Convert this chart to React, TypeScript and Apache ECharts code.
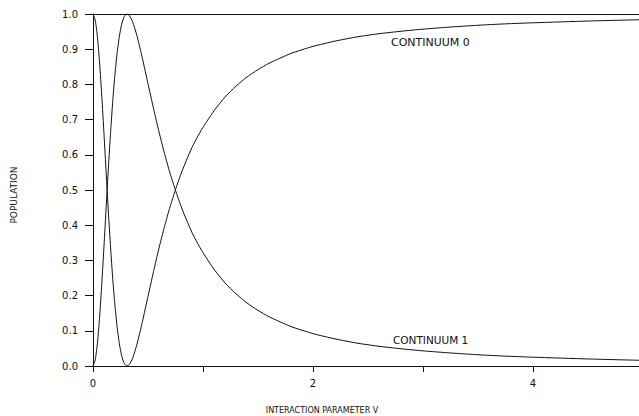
import React, { useEffect, useRef } from "react";
import * as echarts from "echarts";

// Interaction parameter V (x values)
const V = [
  0, 0.02, 0.04, 0.06, 0.08, 0.1, 0.12, 0.14, 0.16, 0.18, 0.2, 0.22, 0.24, 0.26, 0.28, 0.3, 0.31,
  0.33, 0.36, 0.4, 0.45, 0.5, 0.55, 0.6, 0.65, 0.7, 0.75, 0.8, 0.85, 0.9, 0.95, 1.0, 1.1, 1.2, 1.3,
  1.4, 1.5, 1.6, 1.8, 2.0, 2.2, 2.4, 2.6, 2.8, 3.0, 3.25, 3.5, 3.75, 4.0, 4.5, 5.0,
];

// Population of continuum 1
const CONTINUUM_1 = [
  0, 0.017, 0.064, 0.139, 0.234, 0.341, 0.453, 0.563, 0.664, 0.755, 0.83, 0.891, 0.937, 0.97, 0.99,
  0.999, 1.0, 0.996, 0.978, 0.938, 0.873, 0.802, 0.732, 0.665, 0.604, 0.548, 0.499, 0.454, 0.415,
  0.379, 0.349, 0.322, 0.275, 0.236, 0.205, 0.179, 0.158, 0.14, 0.112, 0.092, 0.077, 0.065, 0.056,
  0.049, 0.043, 0.037, 0.032, 0.028, 0.025, 0.02, 0.016,
];

// Population of continuum 0
const CONTINUUM_0 = [
  1, 0.983, 0.936, 0.861, 0.766, 0.659, 0.547, 0.437, 0.336, 0.245, 0.17, 0.109, 0.063, 0.03, 0.01,
  0.001, 0.0, 0.004, 0.022, 0.062, 0.127, 0.198, 0.268, 0.335, 0.396, 0.452, 0.501, 0.546, 0.585,
  0.621, 0.651, 0.678, 0.725, 0.764, 0.795, 0.821, 0.842, 0.86, 0.888, 0.908, 0.923, 0.935, 0.944,
  0.951, 0.957, 0.963, 0.968, 0.972, 0.975, 0.98, 0.984,
];

const X_LABELED_TICKS = [0, 2, 4];
const X_MIN = 0;
const X_MAX = 5;
const Y_MIN = 0;
const Y_MAX = 1;

const SERIES_LABELS = ["CONTINUUM 0", "CONTINUUM 1"];
const X_NAME = "INTERACTION PARAMETER V";
const Y_NAME = "POPULATION";

const FONT = "DejaVu Sans";
const INK = "#111111";

export default function App() {
  const ref = useRef<HTMLDivElement>(null);

  useEffect(() => {
    if (!ref.current) return;
    const chart = echarts.init(ref.current, undefined, { renderer: "svg" });
    const lineStyle = { color: INK, width: 1 };
    chart.setOption({
      animation: false,
      backgroundColor: "#ffffff",
      grid: { left: 93, right: -4, top: 14, bottom: 50, outerBoundsMode: "none" },
      xAxis: [
        {
          type: "value",
          min: X_MIN,
          max: X_MAX,
          interval: 1,
          axisLine: { show: true, lineStyle: { color: INK, width: 1 } },
          axisTick: { show: true, length: 6, lineStyle: { color: INK } },
          splitLine: { show: false },
          axisLabel: {
            margin: 12,
            fontFamily: FONT,
            fontSize: 10,
            color: INK,
            formatter: (v: number) => (X_LABELED_TICKS.includes(v) ? String(v) : ""),
          },
        },
        {
          type: "value",
          position: "top",
          min: X_MIN,
          max: X_MAX,
          axisLine: { show: true, lineStyle: { color: INK, width: 1 } },
          axisTick: { show: false },
          axisLabel: { show: false },
          splitLine: { show: false },
        },
      ],
      yAxis: {
        type: "value",
        min: Y_MIN,
        max: Y_MAX,
        interval: 0.1,
        axisLine: { show: true, lineStyle: { color: INK, width: 1 } },
        axisTick: { show: true, length: 8, lineStyle: { color: INK } },
        splitLine: { show: false },
        axisLabel: {
          margin: 15,
          fontFamily: FONT,
          fontSize: 10,
          color: INK,
          formatter: (v: number) => v.toFixed(1),
        },
      },
      series: [
        {
          name: SERIES_LABELS[0],
          type: "line",
          showSymbol: false,
          smooth: 0.2,
          lineStyle,
          data: V.map((v, i) => [v, CONTINUUM_0[i]]),
        },
        {
          name: SERIES_LABELS[1],
          type: "line",
          showSymbol: false,
          smooth: 0.2,
          lineStyle,
          data: V.map((v, i) => [v, CONTINUUM_1[i]]),
        },
      ],
      graphic: [
        {
          type: "text",
          x: 391,
          y: 42,
          style: {
            text: SERIES_LABELS[0],
            fontFamily: FONT,
            fontSize: 11,
            fill: INK,
            verticalAlign: "middle",
          },
        },
        {
          type: "text",
          x: 393,
          y: 340,
          style: {
            text: SERIES_LABELS[1],
            fontFamily: FONT,
            fontSize: 10.5,
            fill: INK,
            verticalAlign: "middle",
          },
        },
        {
          type: "text",
          x: 322,
          y: 410,
          style: {
            text: X_NAME,
            fontFamily: FONT,
            fontSize: 8,
            fill: INK,
            align: "center",
            verticalAlign: "middle",
          },
        },
        {
          type: "text",
          x: 13.5,
          y: 195,
          rotation: Math.PI / 2,
          style: {
            text: Y_NAME,
            fontFamily: FONT,
            fontSize: 9,
            fill: INK,
            align: "center",
            verticalAlign: "middle",
          },
        },
      ],
    });
    return () => chart.dispose();
  }, []);

  return (
    <div
      ref={ref}
      style={{ position: "fixed", left: 0, top: 0, width: 639, height: 416, background: "#fff" }}
    />
  );
}
